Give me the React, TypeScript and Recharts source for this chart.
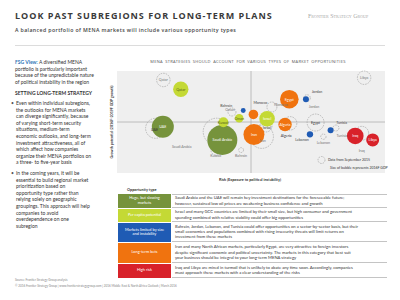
import {
  ScatterChart,
  Scatter,
  XAxis,
  YAxis,
  ZAxis,
  CartesianGrid,
  ReferenceLine,
} from "recharts";

// bubble chart data (axes are conceptual, 0-100 scale)
const countries = [
  "Saudi Arabia", "UAE", "Qatar", "Kuwait", "Oman", "Israel", "Bahrain", "Jordan",
  "Lebanon", "Tunisia", "Iran", "Egypt", "Morocco", "Algeria", "Iraq", "Libya",
];
const opportunity = [
  "huge", "huge", "perCapita", "perCapita", "perCapita", "perCapita", "limited", "limited",
  "limited", "limited", "longTerm", "longTerm", "longTerm", "longTerm", "highRisk", "highRisk",
];
const risk2016 = [39.3, 17.1, 23.8, 39.7, 45.6, 56.0, 47.1, 70.5, 72.0, 79.7, 51.1, 64.3, 50.9, 62.7, 88.9, 95.4];
const growth2016 = [32.4, 45.4, 82.1, 49.7, 53.6, 53.2, 61.3, 72.3, 37.9, 42.0, 37.7, 72.4, 57.4, 47.5, 36.3, 32.4];
const gdp2016 = [225, 121, 59, 25, 18, 61, 6, 9, 10, 9, 110, 86, 23, 45, 69, 42];

const risk2015 = [37.2, 14.4, 17.3, 36.9, 42.9, 55.6, 46.3, 70.9, 77.0, 81.7, 54.0, 74.1, 57.8, 64.6, 91.3, 92.2];
const growth2015 = [40.5, 43.8, 91.2, 22.5, 59.8, 46.1, 22.5, 73.5, 35.6, 44.1, 35.6, 49.5, 64.7, 48.7, 38.9, 93.4];
const gdp2015 = [182, 100, 45, 25, 16, 36, 6, 11, 7, 9, 137, 72, 25, 45, 49, 45];

const opportunityTypes = ["huge", "perCapita", "limited", "longTerm", "highRisk"];
const opportunityLabels = [
  ["Huge, but slowing", "markets"],
  ["Per capita potential"],
  ["Markets limited by size", "and instability"],
  ["Long-term bets"],
  ["High risk"],
];
const opportunityText = [
  [
    "Saudi Arabia and the UAE will remain key investment destinations for the foreseeable future;",
    "however, sustained low oil prices are weakening business confidence and growth",
  ],
  [
    "Israel and many GCC countries are limited by their small size, but high consumer and government",
    "spending combined with relative stability could offer big opportunities",
  ],
  [
    "Bahrain, Jordan, Lebanon, and Tunisia could offer opportunities on a sector-by-sector basis, but their",
    "small economies and populations combined with rising insecurity threats will limit returns on",
    "investment from these markets",
  ],
  [
    "Iran and many North African markets, particularly Egypt, are very attractive to foreign investors",
    "despite significant economic and political uncertainty. The markets in this category that best suit",
    "your business should be integral to your long-term MENA strategy",
  ],
  [
    "Iraq and Libya are mired in turmoil that is unlikely to abate any time soon. Accordingly, companies",
    "must approach these markets with a clear understanding of the risks",
  ],
];

const colors: Record<string, string> = {
  huge: "#76933c",
  perCapita: "#c4d935",
  limited: "#1f5bb4",
  longTerm: "#f0730f",
  highRisk: "#d8222a",
};

// label placement (px offsets from bubble centre); missing = centred inside
const labelOffset2016: Record<string, [number, number]> = {
  Bahrain: [-17, -5],
  Morocco: [7, -12],
  Jordan: [11, -8],
  Lebanon: [-8, 5],
  Tunisia: [11, -8],
};
const labelOffset2015: Record<string, [number, number]> = {
  "Saudi Arabia": [-35, 15],
  UAE: [-1, 1],
  Kuwait: [0, 5],
  Oman: [-2, -3],
  Israel: [1, 2],
  Bahrain: [0, 5],
  Jordan: [7, 8],
  Lebanon: [0, 6],
  Tunisia: [6, 7],
  Iran: [1, 4],
  Morocco: [9, -3],
  Algeria: [-4, 12],
  Iraq: [0, 17],
};
const darkInside = ["Qatar", "Kuwait", "Oman"];
const dark2015 = ["UAE", "Israel", "Egypt", "Algeria"];

const points2016 = countries.map((name, i) => ({
  name,
  type: opportunity[i],
  risk: risk2016[i],
  growth: growth2016[i],
  gdp: gdp2016[i],
}));
const points2015 = countries.map((name, i) => ({
  name,
  risk: risk2015[i],
  growth: growth2015[i],
  gdp: gdp2015[i],
}));

const font = "Lato, 'Open Sans', sans-serif";

const radius = (size: number) => Math.sqrt(Math.max(size, 0) / Math.PI);

const makeBubble = (color: string) => (props: any) => {
  const { cx, cy, size, payload } = props;
  const off = labelOffset2016[payload.name];
  const textColor = off ? "#444" : darkInside.includes(payload.name) ? "#55651a" : "#fff";
  return (
    <g>
      <circle cx={cx} cy={cy} r={radius(size)} fill={color} />
      <text
        x={cx + (off ? off[0] : 0)}
        y={cy + (off ? off[1] : 0)}
        textAnchor="middle"
        dominantBaseline="central"
        fontSize={3.6}
        fontFamily={font}
        fill={textColor}
      >
        {payload.name}
      </text>
    </g>
  );
};

const DashedBubble = (props: any) => {
  const { cx, cy, size } = props;
  return (
    <circle
      cx={cx}
      cy={cy}
      r={radius(size)}
      fill="none"
      stroke="#9a9a9a"
      strokeWidth={0.6}
      strokeDasharray="1.6 1"
    />
  );
};

const Label2015 = (props: any) => {
  const { cx, cy, payload } = props;
  const off = labelOffset2015[payload.name] || [0, 0];
  return (
    <text
      x={cx + off[0]}
      y={cy + off[1]}
      textAnchor="middle"
      dominantBaseline="central"
      fontSize={3.6}
      fontFamily={font}
      fill={dark2015.includes(payload.name) ? "#333" : "#777"}
    >
      {payload.name}
    </text>
  );
};

const abs = (left: number, top: number, extra: any = {}) => ({
  position: "absolute" as const,
  left,
  top,
  whiteSpace: "nowrap" as const,
  ...extra,
});

const leftIntro = [
  "portfolio is particularly important",
  "because of the unpredictable nature",
  "of political instability in the region",
];
const bulletOne = [
  "Even within individual subregions,",
  "the outlooks for MENA markets",
  "can diverge significantly, because",
  "of varying short-term security",
  "situations, medium-term",
  "economic outlooks, and long-term",
  "investment attractiveness, all of",
  "which affect how companies",
  "organize their MENA portfolios on",
  "a three- to five-year basis",
];
const bulletTwo = [
  "In the coming years, it will be",
  "essential to build regional market",
  "prioritization based on",
  "opportunity type rather than",
  "relying solely on geographic",
  "groupings. This approach will help",
  "companies to avoid",
  "overdependence  on one",
  "subregion",
];

const rowTops = [194, 208.5, 223, 242.5, 264];
const rowHeights = [13.5, 13.5, 18.5, 20.5, 13.5];

function App() {
  const leftLine = 6.6;
  return (
    <div
      style={{
        position: "fixed",
        left: 0,
        top: 0,
        width: 400,
        height: 300,
        background: "#fff",
        fontFamily: font,
        color: "#333",
        overflow: "hidden",
      }}
    >
      {/* header */}
      <div
        style={abs(15, 10, {
          fontFamily: "'Open Sans', sans-serif",
          fontWeight: 700,
          fontSize: 9,
          letterSpacing: 1,
          color: "#3a3a3a",
          lineHeight: "12px",
        })}
      >
        LOOK PAST SUBREGIONS FOR LONG-TERM PLANS
      </div>
      <div
        style={abs(308, 13, {
          fontFamily: "'Liberation Serif', serif",
          fontVariant: "small-caps",
          fontSize: 6,
          color: "#a8a8a8",
          lineHeight: "6px",
        })}
      >
        Frontier Strategy Group
      </div>
      <div
        style={abs(15, 27, {
          fontFamily: "'Open Sans', sans-serif",
          fontWeight: 600,
          fontSize: 5.2,
          letterSpacing: 0.4,
          color: "#444",
          lineHeight: "6px",
        })}
      >
        A balanced portfolio of MENA markets will include various opportunity types
      </div>
      <div style={abs(15, 45, { width: 370, height: 1, background: "#dcdcdc" })} />

      {/* left column */}
      <div style={abs(15, 59, { fontSize: 5, lineHeight: `${leftLine}px`, color: "#333" })}>
        <div>
          <span style={{ color: "#2e75b6", fontWeight: 700 }}>FSG View:</span> A diversified MENA
        </div>
        {leftIntro.map((l) => (
          <div key={l}>{l}</div>
        ))}
      </div>
      <div style={abs(15, 90, { fontSize: 5, fontWeight: 700, lineHeight: "6px", color: "#333" })}>
        SETTING LONG-TERM STRATEGY
      </div>
      <div style={abs(11, 100, { fontSize: 5, lineHeight: `${leftLine}px`, color: "#333" })}>
        {bulletOne.map((l, i) => (
          <div key={l} style={{ position: "relative", paddingLeft: 5 }}>
            {i === 0 && <span style={{ position: "absolute", left: 0, color: "#555" }}>•</span>}
            {l}
          </div>
        ))}
      </div>
      <div style={abs(11, 170, { fontSize: 5, lineHeight: `${leftLine}px`, color: "#333" })}>
        {bulletTwo.map((l, i) => (
          <div key={l} style={{ position: "relative", paddingLeft: 5 }}>
            {i === 0 && <span style={{ position: "absolute", left: 0, color: "#555" }}>•</span>}
            {l}
          </div>
        ))}
      </div>

      {/* chart */}
      <div
        style={abs(108, 59, {
          width: 280,
          textAlign: "center",
          fontFamily: "'Open Sans', sans-serif",
          fontSize: 4,
          letterSpacing: 0.3,
          wordSpacing: 1,
          color: "#555",
          lineHeight: "5px",
        })}
      >
        MENA STRATEGIES SHOULD ACCOUNT FOR VARIOUS TYPES OF MARKET OPPORTUNITIES
      </div>
      <div
        style={abs(112, 122, {
          transform: "translate(-50%, -50%) rotate(-90deg)",
          fontSize: 3.6,
          fontWeight: 700,
          color: "#333",
          lineHeight: "4px",
        })}
      >
        Growth potential (2016F-2019F GDP growth)
      </div>
      <div style={{ position: "absolute", left: 110, top: 60 }}>
        <ScatterChart width={280} height={125} margin={{ top: 11, right: 5, bottom: 12, left: 7 }}>
          <defs>
            <marker
              id="axisArrow"
              viewBox="0 0 6 6"
              refX="3"
              refY="3"
              markerWidth="3"
              markerHeight="3"
              orient="auto-start-reverse"
            >
              <path d="M0,0 L6,3 L0,6 z" fill="#222" />
            </marker>
          </defs>
          <CartesianGrid fill="#efefef" stroke="none" horizontal={false} vertical={false} />
          <XAxis
            type="number"
            dataKey="risk"
            domain={[0, 100]}
            tick={false}
            tickLine={false}
            height={0}
            axisLine={{ stroke: "#222", strokeWidth: 1, markerEnd: "url(#axisArrow)" }}
          />
          <YAxis
            type="number"
            dataKey="growth"
            domain={[0, 100]}
            tick={false}
            tickLine={false}
            width={0}
            axisLine={{ stroke: "#222", strokeWidth: 1, markerStart: "url(#axisArrow)" }}
          />
          <ZAxis type="number" dataKey="gdp" domain={[0, 225]} range={[0, 225 * Math.PI]} />
          <ReferenceLine x={50} stroke="#b0b0b0" strokeWidth={0.8} />
          <ReferenceLine y={50} stroke="#b0b0b0" strokeWidth={0.8} />
          <Scatter data={points2015} shape={DashedBubble} isAnimationActive={false} />
          {opportunityTypes.map((t) => (
            <Scatter
              key={t}
              data={points2016.filter((p) => p.type === t)}
              fill={colors[t]}
              shape={makeBubble(colors[t])}
              isAnimationActive={false}
            />
          ))}
          <Scatter data={points2015} shape={Label2015} isAnimationActive={false} />
        </ScatterChart>
      </div>
      {/* in-plot legend */}
      <svg style={abs(317, 156, { width: 9, height: 9, overflow: "visible" })}>
        <circle cx={4.5} cy={4} r={3.5} fill="none" stroke="#9a9a9a" strokeWidth={0.6} strokeDasharray="1.6 1" />
      </svg>
      <div style={abs(328, 158, { fontSize: 3.5, color: "#333", lineHeight: "4px" })}>
        Data from September 2015
      </div>
      <div style={abs(330, 166, { fontSize: 3.5, color: "#333", lineHeight: "4px", width: 53, textAlign: "right" })}>
        Size of bubble represents 2016F GDP
      </div>
      <div
        style={abs(110, 178, {
          width: 280,
          textAlign: "center",
          fontSize: 3.8,
          fontWeight: 700,
          color: "#333",
          lineHeight: "4px",
        })}
      >
        Risk (Exposure to political instability)
      </div>

      {/* opportunity table */}
      <div style={abs(127, 188, { fontSize: 3.8, fontWeight: 700, color: "#333", lineHeight: "4px" })}>
        Opportunity type
      </div>
      {opportunityTypes.map((t, i) => (
        <div key={t}>
          <div
            style={abs(118, rowTops[i], {
              width: 53,
              height: rowHeights[i],
              background: colors[t],
              color: "#fff",
              fontSize: 3.9,
              lineHeight: "4.6px",
              display: "flex",
              flexDirection: "column",
              justifyContent: "center",
              alignItems: "center",
            })}
          >
            {opportunityLabels[i].map((l) => (
              <div key={l}>{l}</div>
            ))}
          </div>
          <div
            style={abs(172, rowTops[i], {
              width: 215,
              height: rowHeights[i],
              boxSizing: "border-box",
              borderBottom: "0.6px solid #c4c4c4",
              borderTop: i === 0 ? "0.6px solid #c4c4c4" : "none",
              paddingLeft: 3,
              fontSize: 4.2,
              lineHeight: "5.4px",
              color: "#333",
              display: "flex",
              flexDirection: "column",
              justifyContent: "center",
            })}
          >
            {opportunityText[i].map((l) => (
              <div key={l}>{l}</div>
            ))}
          </div>
        </div>
      ))}

      {/* footer */}
      <div style={abs(15, 278, { fontSize: 3, color: "#888", lineHeight: "4px" })}>
        Source: Frontier Strategy Group analysis
      </div>
      <div style={abs(15, 284, { fontSize: 3, color: "#888", lineHeight: "4px" })}>
        © 2016 Frontier Strategy Group | www.frontierstrategygroup.com | 2016 Middle East &amp; North Africa Outlook | March 2016
      </div>
    </div>
  );
}

export default App;
